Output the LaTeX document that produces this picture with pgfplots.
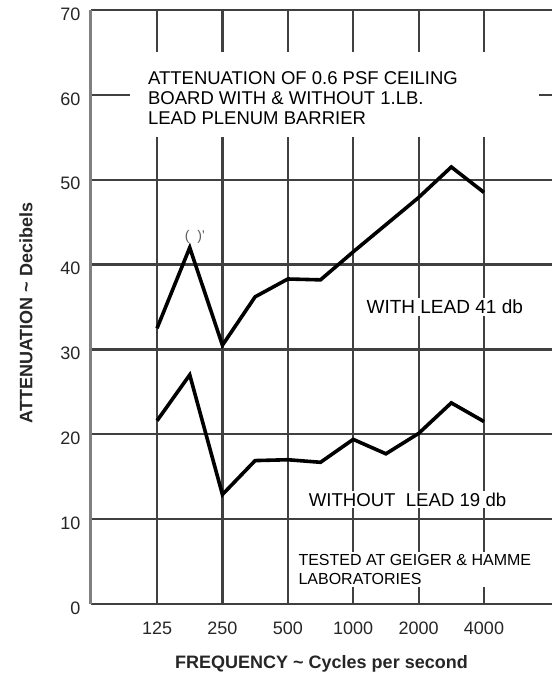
\documentclass[border=0pt]{standalone}
\usepackage{pgfplots}
\pgfplotsset{compat=1.18}
\usepackage{fontspec}
\setmainfont{Liberation Sans}

% x is log2(f/125): 125 Hz -> 0, 4000 Hz -> 5, readings every half octave
\begin{document}
\begin{tikzpicture}
\begin{axis}[
    scale only axis,
    width=461bp, height=594bp,
    xmin=-1.01, xmax=6.04,
    ymin=0, ymax=70,
    xtick={0,1,2,3,4,5},
    xticklabels={125,250,500,1000,2000,4000},
    ytick={0,10,...,70},
    major tick length=0pt,
    grid=major,
    major grid style={line width=2.2bp, color=black!75},
    axis line style={draw=none},
    /pgf/number format/assume math mode=true,
    tick label style={font=\fontsize{18bp}{20bp}\selectfont, color=black!85},
    xticklabel style={yshift=-14bp},
    yticklabel style={xshift=-7bp, yshift=-4bp},
    xlabel={\textbf{FREQUENCY \textasciitilde\ Cycles per second}},
    ylabel={\textbf{ATTENUATION \textasciitilde\ Decibels}},
    label style={font=\fontsize{18bp}{20bp}\selectfont, color=black!85},
    xlabel style={at={(axis description cs:0.5,-0.101)}, anchor=center},
    ylabel style={at={(axis description cs:-0.141,0.49)}, anchor=center},
    clip=false,
]
% left axis line
\draw[line width=3bp, color=black!50] (rel axis cs:0,0) -- (rel axis cs:0,1);

% white area behind the title
\fill[white] (axis cs:-0.41,55.0) rectangle (axis cs:5.84,65.05);
\node[anchor=north west, align=left, inner sep=0pt,
      font=\fontsize{18.5bp}{20bp}\selectfont]
  at (axis cs:-0.14,62.8)
  {ATTENUATION OF 0.6 PSF CEILING\\BOARD WITH \& WITHOUT 1.LB.\\LEAD PLENUM BARRIER};

% with lead
\addplot[black, line width=3.6bp, line join=miter, mark=none] coordinates {
  (0,32.5) (0.5,42.0) (1,30.5) (1.5,36.2) (2,38.3) (2.5,38.2)
  (3,41.5) (3.5,44.7) (4,47.9) (4.5,51.5) (5,48.5)
};
% without lead
\addplot[black, line width=3.6bp, line join=miter, mark=none] coordinates {
  (0,21.6) (0.5,27.0) (1,12.9) (1.5,16.9) (2,17.0) (2.5,16.7)
  (3,19.4) (3.5,17.7) (4,20.1) (4.5,23.7) (5,21.5)
};

\node[font=\fontsize{14bp}{14bp}\selectfont, color=black!65] at (axis cs:0.58,43.3) {(\ \ )'};

\node[fill=white, inner sep=2bp, font=\fontsize{19bp}{20bp}\selectfont]
  at (axis cs:4.40,35.0) {WITH LEAD 41 db};
\node[fill=white, inner sep=2bp, font=\fontsize{18.6bp}{20bp}\selectfont]
  at (axis cs:3.83,12.3) {WITHOUT\ \ LEAD 19 db};
\node[fill=white, inner sep=2bp, anchor=west, align=left,
      font=\fontsize{16bp}{19bp}\selectfont]
  at (axis cs:2.13,4.05) {TESTED AT GEIGER \& HAMME\\LABORATORIES};
\end{axis}
\pgfresetboundingbox
\path[use as bounding box] (-91bp,-70bp) rectangle (461bp,604bp);
\end{tikzpicture}
\end{document}
